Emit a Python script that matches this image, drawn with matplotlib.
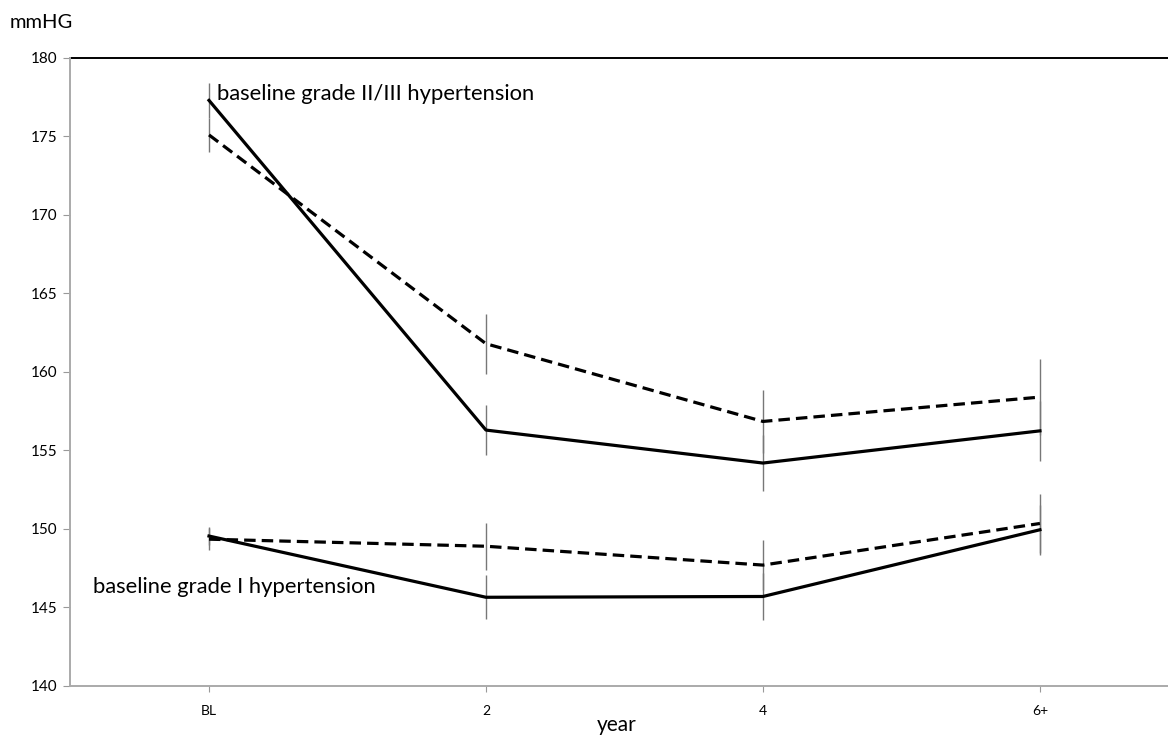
#!/usr/bin/env python3
"""
Blood pressure over follow-up by baseline hypertension grade.
"""
import matplotlib
matplotlib.use("Agg")
from matplotlib import pyplot as plt

plt.rcParams['font.family'] = ['Lato', 'DejaVu Sans']

years = ["BL", "2", "4", "6+"]

# baseline grade II/III hypertension
high_solid = [177.3, 156.3, 154.2, 156.25]
high_solid_err = [1.1, 1.6, 1.8, 1.9]
high_dash = [175.1, 161.8, 156.85, 158.4]
high_dash_err = [1.1, 1.9, 2.0, 2.4]

# baseline grade I hypertension
low_solid = [149.55, 145.65, 145.7, 149.95]
low_solid_err = [0.6, 1.4, 1.5, 1.6]
low_dash = [149.35, 148.9, 147.7, 150.35]
low_dash_err = [0.7, 1.5, 1.6, 1.9]

x = list(range(len(years)))

fig = plt.figure(figsize=(11.68, 7.35), dpi=100)
ax = fig.add_axes([0.0599, 0.0667, 0.94, 0.8544])

err_kw = dict(fmt="none", ecolor="#777777", elinewidth=1.0, capsize=0, zorder=1)
for vals, errs in [(high_solid, high_solid_err), (high_dash, high_dash_err),
                   (low_solid, low_solid_err), (low_dash, low_dash_err)]:
    ax.errorbar(x, vals, yerr=errs, **err_kw)

ax.plot(x, high_solid, color="black", lw=2.3, zorder=2)
ax.plot(x, low_solid, color="black", lw=2.3, zorder=2)
ax.plot(x, high_dash, color="black", lw=2.3, dashes=(3.6, 1.9), zorder=2)
ax.plot(x, low_dash, color="black", lw=2.3, dashes=(3.6, 1.9), zorder=2)

ax.set_xlim(-0.502, 3.462)
ax.set_ylim(140, 180)
ax.set_xticks(x)
ax.set_xticklabels(years, fontsize=10)
ax.set_yticks(range(140, 181, 5))
ax.tick_params(axis="y", labelsize=11, length=5, color="#999999", pad=4)
ax.tick_params(axis="x", length=4, color="#999999", pad=10)

ax.axhline(180, color="black", lw=1.4, clip_on=False)
for side in ["top", "right"]:
    ax.spines[side].set_visible(False)
for side in ["left", "bottom"]:
    ax.spines[side].set_color("#aaaaaa")
    ax.spines[side].set_linewidth(1.4)

ax.text(0.03, 177.3, "baseline grade II/III hypertension", fontsize=15.8)
ax.text(-0.42, 145.9, "baseline grade I hypertension", fontsize=15.8)

fig.text(0.0086, 0.962, "mmHG", fontsize=14.5)
fig.text(0.528, 0.006, "year", fontsize=15, ha="center")

fig.savefig("out.png", dpi=100)
